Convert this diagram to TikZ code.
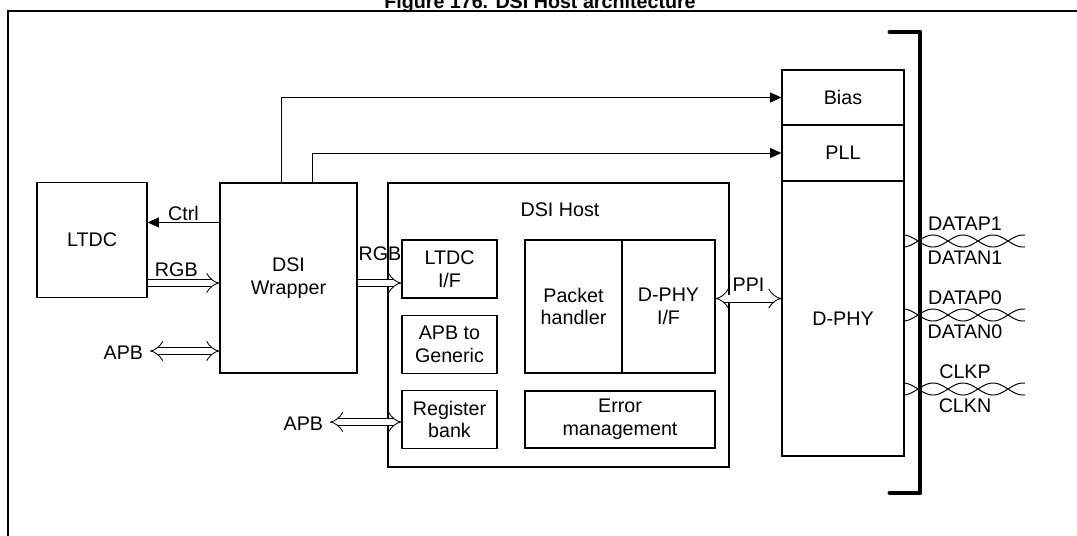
\documentclass[tikz,border=0pt]{standalone}
\usepackage{fontspec}
\setmainfont{Liberation Sans}
\usetikzlibrary{arrows.meta}

\tikzset{
  blk/.style={draw,line width=0.8pt,inner sep=0pt,align=center},
  sig/.style={-{Triangle[length=8pt,width=7pt]},line width=0.7pt},
  bus/.style={double,double distance=4.5pt,line width=0.6pt,-{Implies}},
  bbus/.style={double,double distance=4.5pt,line width=0.6pt,{Implies}-{Implies}}
}
\newcommand{\twpair}[3]{%
  \begin{scope}[shift={(905,#1)}]
  \draw[line width=0.7pt] plot[domain=0:120,samples=121] (\x,{6*sin(6*(\x+17))});
  \draw[line width=0.7pt] plot[domain=0:120,samples=121] (\x,{-6*sin(6*(\x+17))});
  \end{scope}
  \node at (965,#1-17) {#2};
  \node at (965,#1+17) {#3};}

\begin{document}
\begin{tikzpicture}[x=0.025cm,y=-0.025cm,font=\fontsize{14}{16}\selectfont]
\useasboundingbox (0,0) rectangle (1077,535);
\node[font=\fontsize{14}{16}\selectfont\bfseries,anchor=base] at (540,8) (ttl) {Figure 176. DSI Host architecture};
\draw[line width=0.9pt] (1090,11) -- (8,11) -- (8,545);

% blocks
\node[blk,minimum width=2.75cm,minimum height=2.875cm] at (92,240) (ltdc) {LTDC};
\node[blk,minimum width=3.425cm,minimum height=4.75cm] at (288.5,278) (wrap) {DSI\\Wrapper};
\node[blk,minimum width=8.525cm,minimum height=7.1cm] at (558.5,325) (host) {};
\node at (560,210) (hostlbl) {DSI Host};
\node[blk,minimum width=2.375cm,minimum height=1.45cm] at (449.5,269) (lif) {LTDC\\I/F};
\node[blk,minimum width=2.375cm,minimum height=1.45cm] at (449.5,344.5) (gen) {APB to\\Generic};
\node[blk,minimum width=2.375cm,minimum height=1.45cm] at (449.5,419.5) (reg) {Register\\bank};
\node[blk,minimum width=2.425cm,minimum height=3.325cm] at (573.5,306.5) (pkt) {Packet\\handler};
\node[blk,minimum width=2.325cm,minimum height=3.325cm] at (668.5,306.5) (dif) {D-PHY\\I/F};
\node[blk,minimum width=4.75cm,minimum height=1.425cm] at (620,419.5) (err) {Error\\management};
\node[blk,minimum width=3.05cm,minimum height=1.375cm] at (843,97.5) (bias) {Bias};
\node[blk,minimum width=3.05cm,minimum height=1.4cm] at (843,153) (pll) {PLL};
\node[blk,minimum width=3.05cm,minimum height=6.875cm] at (843,318.5) (dphy) {D-PHY};

% connections
\draw[sig] ([xshift=1.55cm]wrap.north west) |- (bias.west);
\draw[sig] ([xshift=2.325cm]wrap.north west) |- (pll.west);
\draw[sig] ([yshift=-1cm]wrap.north west) coordinate (c1) -- (c1 -| ltdc.east)
  node[midway,above,inner sep=1pt] {Ctrl};
\draw[bus] ([yshift=-1.075cm]ltdc.east) coordinate (r1) -- (r1 -| wrap.west)
  node[pos=0.4,above=3pt,inner sep=1pt] {RGB};
\coordinate (r2) at ([yshift=-0.35cm]lif.west);
\draw[bus] (r2 -| wrap.east) -- (r2);
\node at (380,254) (rgb2) {RGB};
\coordinate (a1) at (150,351);
\draw[bbus] (a1) -- (a1 -| wrap.west);
\node[anchor=east] at (148,353) (apb1) {APB};
\coordinate (a2) at (330,422);
\draw[bbus] (a2) -- (a2 -| reg.west);
\node[anchor=east] at (328,424) (apb2) {APB};
\draw[bbus] ([yshift=0.2cm]dif.east) coordinate (p1) -- (p1 -| dphy.west)
  node[midway,above=4pt,inner sep=1pt] {PPI};

% bracket
\draw[line width=3.5pt,line cap=round,line join=round] (890,32) -- (920,32) -- (920,493) -- (890,493);

% lanes
\twpair{241}{DATAP1}{DATAN1}
\twpair{315}{DATAP0}{DATAN0}
\twpair{389}{CLKP}{CLKN}
\end{tikzpicture}
\end{document}
